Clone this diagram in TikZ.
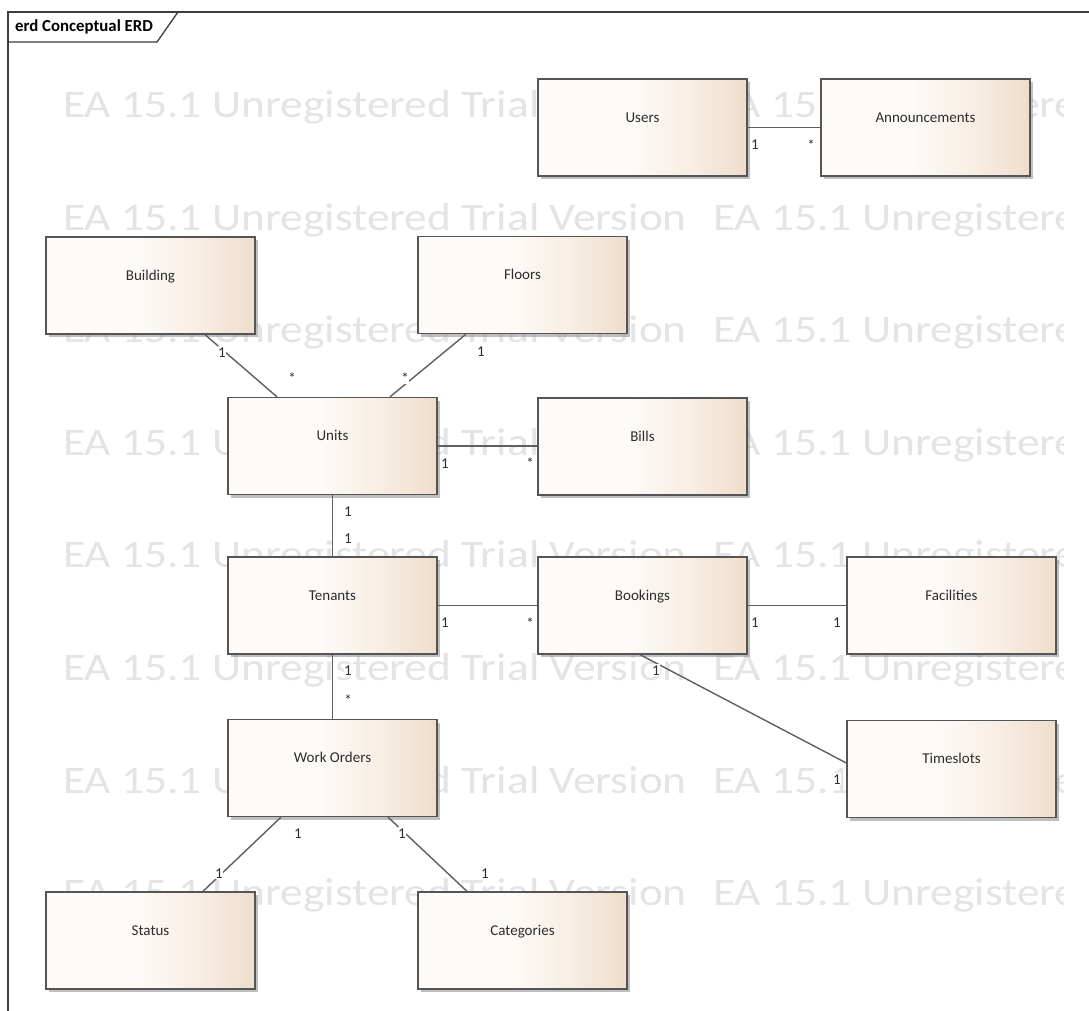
\documentclass[tikz,border=0pt]{standalone}
\usepackage{fontspec}
\setmainfont{Carlito}
\usepackage{graphicx}
\usetikzlibrary{shadows}

\definecolor{eaLight}{RGB}{253,250,247}
\definecolor{eaMid}{RGB}{247,237,227}
\definecolor{eaDark}{RGB}{239,221,203}
\definecolor{eaEdge}{RGB}{85,85,85}
\definecolor{eaLine}{RGB}{95,95,95}
\definecolor{eaText}{RGB}{45,45,45}
\definecolor{eaMark}{RGB}{228,228,230}
\definecolor{eaFrame}{RGB}{60,60,60}

% entity fill: flat pale on the left half, warm tan towards the right edge
\pgfdeclarehorizontalshading{eabox}{100bp}{color(0bp)=(eaLight); color(25bp)=(eaLight); color(47bp)=(eaLight); color(62bp)=(eaMid); color(75bp)=(eaDark); color(100bp)=(eaDark)}

\tikzset{
  entity/.style={draw=eaEdge, line width=1.3pt, shading=eabox,
    minimum width=209pt, minimum height=97pt, inner sep=0pt,
    drop shadow={shadow xshift=3pt, shadow yshift=-3pt, fill=black!45, opacity=0.55}},
  etitle/.style={anchor=base, inner sep=0pt, text=eaText, font=\fontsize{15}{18}\selectfont},
  rel/.style={draw=eaLine, line width=1.4pt},
  mult/.style={inner sep=0.6pt, fill=white, text=eaText, text height=10pt, text depth=0pt,
    font=\fontsize{15}{18}\selectfont},
  wmark/.style={anchor=base west, inner sep=0pt, text=eaMark, font=\fontsize{39}{42}\selectfont},
  frameline/.style={draw=eaFrame, line width=1.3pt}
}

% name, centre x, centre y, title
\newcommand\entitybox[4]{%
  \node[entity] (#1) at (#2,#3) {};
  \node[etitle] (#1-name) at ([yshift=-44pt]#1.north) {#4};}

\newcommand\trialtext{\scalebox{1.165}[1]{EA 15.1 Unregistered Trial Version}}

\begin{document}
\begin{tikzpicture}[x=1pt, y=-1pt]
\useasboundingbox[fill=white] (0,0) rectangle (1089,1011);

% evaluation watermark rows
\begin{scope}
  \clip (8,12) rectangle (1063,1011);
  \foreach \r in {0,...,7} {
    \node[wmark] (wm-a-\r) at (63,{117.5+112.6*\r}) {\trialtext};
    \node[wmark] (wm-b-\r) at (713,{117.5+112.6*\r}) {\trialtext};
  }
\end{scope}

% diagram frame with its name tab
\draw[frameline] (8,1011) -- (8,12) -- (1089,12);
\draw[frameline] (8,42) -- (157,42) -- (178,12);
\node[anchor=base west, inner sep=0pt, text=black, font=\bfseries\fontsize{16.8}{19}\selectfont] (frame-title) at (15,31.5) {erd Conceptual ERD};

% entities
\entitybox{users}{642.5}{127.5}{Users}
\entitybox{announcements}{925.5}{127.5}{Announcements}
\entitybox{building}{150.5}{285.5}{Building}
\entitybox{floors}{522.5}{285}{Floors}
\entitybox{units}{332.5}{446}{Units}
\entitybox{bills}{642.5}{446.5}{Bills}
\entitybox{tenants}{332.5}{605.5}{Tenants}
\entitybox{bookings}{642.5}{605.5}{Bookings}
\entitybox{facilities}{951.5}{605.5}{Facilities}
\entitybox{timeslots}{951.5}{769}{Timeslots}
\entitybox{workorders}{332.5}{768}{Work Orders}
\entitybox{status}{150.5}{940.5}{Status}
\entitybox{categories}{522.5}{940.5}{Categories}

% relationships
\draw[rel] (users.east) -- (users.east -| announcements.west);
\draw[rel] ([xshift=54.5pt]building.south) -- ([xshift=-55.5pt]units.north);
\draw[rel] ([xshift=-56.5pt]floors.south) -- ([xshift=57.5pt]units.north);
\draw[rel] (units.east) -- (units.east -| bills.west);
\draw[rel] (units.south) -- (tenants.north);
\draw[rel] (tenants.east) -- (bookings.west);
\draw[rel] (bookings.east) -- (facilities.west);
\draw[rel] ([xshift=-2.5pt]bookings.south) -- ([yshift=6pt]timeslots.west);
\draw[rel] (tenants.south) -- (workorders.north);
\draw[rel] ([xshift=-51.5pt]workorders.south) -- ([xshift=52.5pt]status.north);
\draw[rel] ([xshift=55.5pt]workorders.south) -- ([xshift=-55.5pt]categories.north);

% multiplicities
\node[mult] (m-users) at (755,145) {1};
\node[mult] (m-ann) at (811,146) {*};
\node[mult] (m-bld) at (222,352) {1};
\node[mult] (m-ub) at (292,378) {*};
\node[mult] (m-flr) at (481,351) {1};
\node[mult] (m-uf) at (405,378) {*};
\node[mult] (m-ubl) at (445,463) {1};
\node[mult] (m-bl) at (530,463) {*};
\node[mult] (m-ut) at (348,511) {1};
\node[mult] (m-tu) at (348,538) {1};
\node[mult] (m-tb) at (445,622) {1};
\node[mult] (m-bt) at (530,623) {*};
\node[mult] (m-bf) at (755,622) {1};
\node[mult] (m-fb) at (837,622) {1};
\node[mult] (m-bts) at (656,670) {1};
\node[mult] (m-tsb) at (837,779) {1};
\node[mult] (m-tw) at (348,670) {1};
\node[mult] (m-wt) at (348,700) {*};
\node[mult] (m-ws) at (298,833) {1};
\node[mult] (m-sw) at (219,873) {1};
\node[mult] (m-wc) at (402,833) {1};
\node[mult] (m-cw) at (485,873) {1};
\end{tikzpicture}
\end{document}
